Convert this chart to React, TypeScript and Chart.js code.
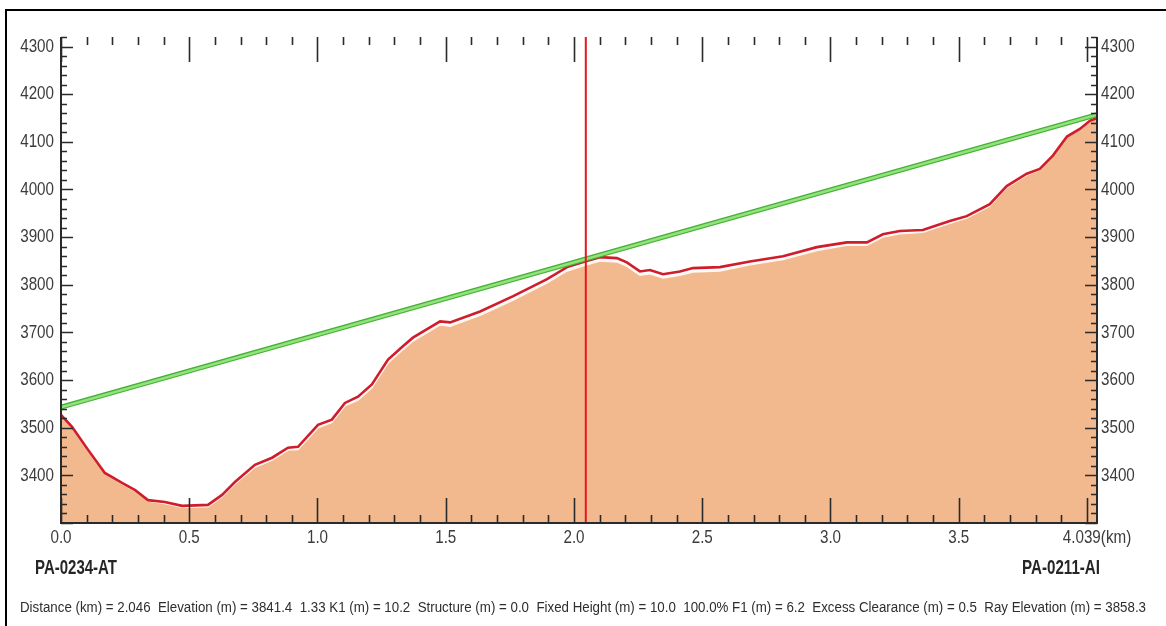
import React, { useEffect, useRef } from "react";
import { Chart, registerables } from "chart.js";

Chart.register(...registerables);

// ---- data ----
const distanceKm = [
  0.0, 0.043, 0.105, 0.171, 0.238, 0.289, 0.339, 0.405, 0.472, 0.573, 0.628, 0.678, 0.756, 0.823,
  0.885, 0.924, 1.002, 1.056, 1.107, 1.158, 1.212, 1.275, 1.333, 1.372, 1.478, 1.517, 1.634, 1.763,
  1.895, 1.973, 2.043, 2.101, 2.167, 2.206, 2.257, 2.296, 2.347, 2.413, 2.464, 2.569, 2.686, 2.815,
  2.947, 3.064, 3.142, 3.204, 3.27, 3.36, 3.465, 3.531, 3.621, 3.687, 3.765, 3.816, 3.867, 3.922,
  3.972, 4.011, 4.039,
];
// profile with earth bulge (red line)
const profileElevation = [
  3527, 3502, 3454, 3405, 3384, 3369, 3348, 3344, 3336, 3338, 3359, 3386, 3422, 3437,
  3458, 3460, 3506, 3517, 3552, 3565, 3591, 3643, 3671, 3689, 3723, 3721, 3744, 3776,
  3812, 3837, 3849, 3858, 3856, 3847, 3828, 3831, 3822, 3828, 3835, 3837, 3849, 3860,
  3879, 3889, 3889, 3906, 3913, 3915, 3934, 3944, 3969, 4007, 4033, 4043, 4071, 4111,
  4127, 4144, 4150,
];
// terrain (filled area)
const terrainElevation = [
  3527, 3502, 3453, 3404, 3382, 3367, 3346, 3341, 3333, 3334, 3355, 3382, 3417, 3432,
  3453, 3454, 3500, 3511, 3546, 3558, 3584, 3636, 3664, 3682, 3716, 3713, 3736, 3768,
  3804, 3829, 3841, 3850, 3848, 3839, 3820, 3823, 3814, 3820, 3827, 3829, 3842, 3853,
  3872, 3883, 3883, 3900, 3907, 3910, 3929, 3940, 3965, 4004, 4030, 4041, 4069, 4110,
  4126, 4144, 4150,
];
const rayDistance = [0.0, 4.039];
const rayElevation = [3543, 4157];
const cursorDistance = [2.046, 2.046];
const cursorElevation = [3300, 4320];

const xTickValues = [0, 0.5, 1.0, 1.5, 2.0, 2.5, 3.0, 3.5, 4.039];
const xTickLabels = ["0.0", "0.5", "1.0", "1.5", "2.0", "2.5", "3.0", "3.5", "4.039(km)"];
const yTickValues = [3400, 3500, 3600, 3700, 3800, 3900, 4000, 4100, 4200, 4300];
const yTickLabels = ["3400", "3500", "3600", "3700", "3800", "3900", "4000", "4100", "4200", "4300"];

const siteLeft = "PA-0234-AT";
const siteRight = "PA-0211-AI";
const statusLine =
  "Distance (km) = 2.046  Elevation (m) = 3841.4  1.33 K1 (m) = 10.2  Structure (m) = 0.0  Fixed Height (m) = 10.0  100.0% F1 (m) = 6.2  Excess Clearance (m) = 0.5  Ray Elevation (m) = 3858.3";

const X_MIN = 0;
const X_MAX = 4.039;
const Y_MIN = 3300;
const Y_MAX = 4320;

const FONT = "'Liberation Sans', Arial, sans-serif";
const NARROW = 0.8; // horizontal squeeze to mimic a narrow face

const pts = (xs: number[], ys: number[]) => xs.map((x, i) => ({ x, y: ys[i] }));

// make canvas text narrow: scale horizontally around the anchor point
function narrowContext(ctx: CanvasRenderingContext2D) {
  const anyCtx = ctx as any;
  if (anyCtx.__narrowed) return;
  anyCtx.__narrowed = true;
  const orig = ctx.fillText.bind(ctx);
  anyCtx.fillText = (text: string, x: number, y: number, maxWidth?: number) => {
    ctx.save();
    ctx.translate(x, y);
    ctx.scale(NARROW, 1);
    if (maxWidth !== undefined) orig(text, 0, 0, maxWidth / NARROW);
    else orig(text, 0, 0);
    ctx.restore();
  };
}

const axisPlugin = {
  id: "profileAxes",
  afterDraw(chart: any) {
    const { ctx, chartArea } = chart;
    const { left, right, top, bottom } = chartArea;
    const xs = chart.scales.x;
    const ys = chart.scales.y;
    ctx.save();
    ctx.strokeStyle = "#2a2a2a";
    ctx.lineWidth = 2;
    ctx.beginPath();
    ctx.moveTo(left, top);
    ctx.lineTo(left, bottom);
    ctx.lineTo(right, bottom);
    ctx.lineTo(right, top);
    ctx.stroke();
    // x ticks every 0.1 km
    ctx.lineWidth = 1.6;
    for (let i = 0; i <= 40; i++) {
      const v = i / 10;
      const px = Math.round(xs.getPixelForValue(v)) + 0.5;
      const major = i % 5 === 0;
      const len = major ? 25 : 8;
      ctx.beginPath();
      ctx.moveTo(px, bottom);
      ctx.lineTo(px, bottom - len);
      ctx.moveTo(px, top);
      ctx.lineTo(px, top + len);
      ctx.stroke();
    }
    // y ticks every 20 m
    for (let v = Y_MIN; v <= Y_MAX; v += 20) {
      const py = Math.round(ys.getPixelForValue(v)) + 0.5;
      const major = v % 100 === 0;
      const len = major ? 12 : 6;
      ctx.beginPath();
      ctx.moveTo(left, py);
      ctx.lineTo(left + len, py);
      ctx.moveTo(right, py);
      ctx.lineTo(right - len, py);
      ctx.stroke();
    }
    ctx.restore();
  },
};

function FitText(props: { text: string; left: number; top: number; width: number; font: string; color: string }) {
  const ref = useRef<HTMLSpanElement | null>(null);
  useEffect(() => {
    const el = ref.current;
    if (!el) return;
    el.style.transform = "none";
    const w = el.getBoundingClientRect().width;
    if (w > 0) el.style.transform = `scaleX(${props.width / w})`;
  }, [props.text, props.width]);
  return (
    <span
      ref={ref}
      style={{
        position: "absolute",
        left: props.left,
        top: props.top,
        font: props.font,
        lineHeight: 1,
        color: props.color,
        whiteSpace: "pre",
        display: "inline-block",
        transformOrigin: "0 0",
      }}
    >
      {props.text}
    </span>
  );
}

export default function App() {
  const canvasRef = useRef<HTMLCanvasElement | null>(null);

  useEffect(() => {
    const canvas = canvasRef.current;
    if (!canvas) return;
    const ctx2d = canvas.getContext("2d");
    if (ctx2d) narrowContext(ctx2d);
    const tickFont = { family: FONT, size: 19 };
    const yAxisCommon = {
      type: "linear" as const,
      min: Y_MIN,
      max: Y_MAX,
      grid: { display: false, drawTicks: false },
      border: { display: false },
      afterBuildTicks: (s: any) => {
        s.ticks = yTickValues.map((v) => ({ value: v }));
      },
    };
    const chart = new Chart(canvas, {
      type: "line",
      data: {
        datasets: [
          {
            data: pts(cursorDistance, cursorElevation),
            borderColor: "#e8161b",
            borderWidth: 2,
            pointRadius: 0,
            order: 0,
          },
          {
            data: pts(rayDistance, rayElevation),
            borderColor: "#94e27e",
            borderWidth: 2.5,
            pointRadius: 0,
            order: 1,
          },
          {
            data: pts(rayDistance, rayElevation),
            borderColor: "#45b236",
            borderWidth: 5,
            pointRadius: 0,
            order: 2,
          },
          {
            data: pts(distanceKm, profileElevation),
            borderColor: "#cf1d2b",
            borderWidth: 2.6,
            pointRadius: 0,
            tension: 0,
            order: 3,
          },
          {
            data: pts(distanceKm, terrainElevation),
            borderColor: "#fff6ee",
            borderWidth: 1.5,
            backgroundColor: "#f2b98e",
            fill: "start",
            pointRadius: 0,
            tension: 0,
            order: 4,
          },
        ],
      },
      options: {
        animation: false,
        responsive: true,
        maintainAspectRatio: false,
        layout: { padding: { left: 0, right: 0, top: 37, bottom: 0 } },
        plugins: { legend: { display: false }, tooltip: { enabled: false } },
        scales: {
          x: {
            type: "linear",
            min: X_MIN,
            max: X_MAX,
            grid: { display: false, drawTicks: false },
            border: { display: false },
            afterBuildTicks: (s: any) => {
              s.ticks = xTickValues.map((v) => ({ value: v }));
            },
            afterFit: (s: any) => {
              s.height = 626 - 523;
            },
            ticks: {
              autoSkip: false,
              maxRotation: 0,
              padding: 3,
              color: "#3c3c3c",
              font: tickFont,
              callback: (v: any) => {
                const i = xTickValues.indexOf(Number(v));
                return i >= 0 ? xTickLabels[i] : "";
              },
            },
          },
          y: {
            ...yAxisCommon,
            position: "left",
            afterFit: (s: any) => {
              s.width = 61;
            },
            ticks: {
              padding: 7,
              color: "#3c3c3c",
              font: tickFont,
              callback: (v: any) => {
                const i = yTickValues.indexOf(Number(v));
                return i >= 0 ? yTickLabels[i] : "";
              },
            },
          },
          y2: {
            ...yAxisCommon,
            position: "right",
            afterFit: (s: any) => {
              s.width = 1166 - 1097;
            },
            ticks: {
              padding: 4,
              color: "#3c3c3c",
              font: tickFont,
              callback: (v: any) => {
                const i = yTickValues.indexOf(Number(v));
                return i >= 0 ? yTickLabels[i] : "";
              },
            },
          },
        },
      },
      plugins: [axisPlugin],
    });
    return () => chart.destroy();
  }, []);

  return (
    <div
      style={{
        position: "fixed",
        left: 0,
        top: 0,
        width: 1166,
        height: 626,
        overflow: "hidden",
        background: "#ffffff",
      }}
    >
      <div
        style={{
          position: "absolute",
          left: 5,
          top: 9,
          width: 1300,
          height: 800,
          borderTop: "2px solid #000",
          borderLeft: "2px solid #000",
        }}
      />
      <div style={{ position: "absolute", left: 0, top: 0, width: 1166, height: 626 }}>
        <canvas ref={canvasRef} />
      </div>
      <FitText text={siteLeft} left={35} top={557} width={82} font={`bold 20px ${FONT}`} color="#262626" />
      <FitText text={siteRight} left={1022} top={557} width={78} font={`bold 20px ${FONT}`} color="#262626" />
      <FitText text={statusLine} left={20} top={600} width={1126} font={`14px ${FONT}`} color="#2e2e2e" />
    </div>
  );
}
